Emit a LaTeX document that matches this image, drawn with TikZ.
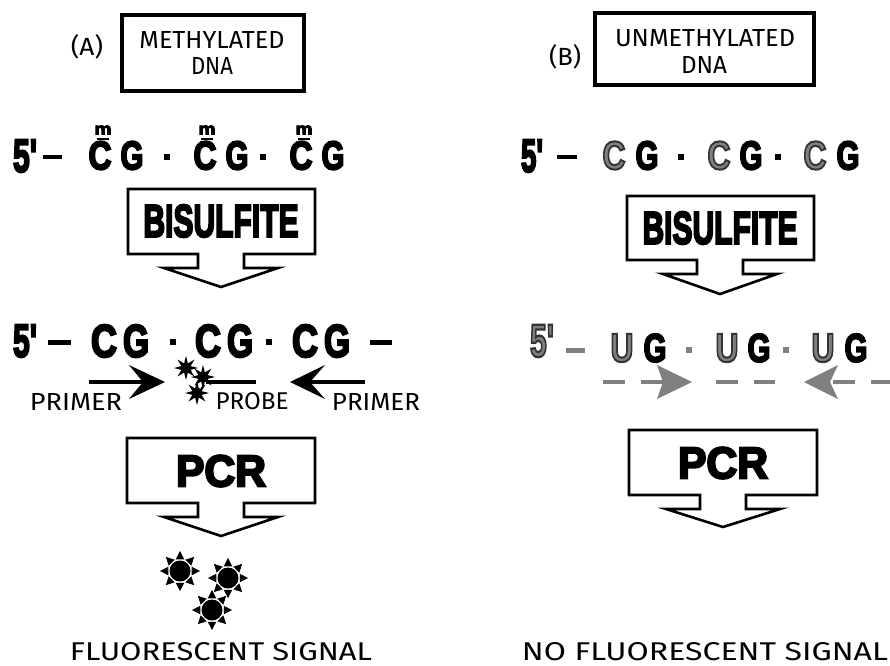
\documentclass[tikz,border=0pt]{standalone}
\usepackage{fontspec}
\setmainfont{Liberation Sans}
\newfontfamily\comic{Fira Sans}
\newfontfamily\heavy[FakeBold=5]{Liberation Sans Bold}
\definecolor{gr}{gray}{0.5}
\tikzset{x=1pt,y=-1pt,
 txt/.style={inner sep=0pt,outer sep=0pt},
 box/.style={draw=black,line width=3.5pt,fill=white},
 arrowshape/.style={draw=black,line width=2.6pt,fill=white,line join=miter,miter limit=10},
 dashg/.style={draw=gr,line width=3.5pt,dash pattern=on 22pt off 16pt},
 solidk/.style={draw=black,line width=3.5pt},
 headk/.style={fill=black,draw=none},
 headg/.style={fill=gr,draw=none},
}
% width, height, text
\newcommand{\Hv}[3]{\resizebox{#1pt}{#2pt}{\heavy #3}}
\newcommand{\Hg}[3]{\resizebox{#1pt}{#2pt}{\special{pdf:bcolor [0.5] [0.2]}\heavy #3\special{pdf:ecolor}}}
\newcommand{\Cm}[3]{\resizebox{#1pt}{#2pt}{\comic #3}}
\newcommand{\starburst}[2]{%
 \foreach \a in {0,45,...,315}{\fill[black] ({#1+12.5*cos(\a+20)},{#2+12.5*sin(\a+20)}) -- ({#1+12.5*cos(\a-20)},{#2+12.5*sin(\a-20)}) -- ({#1+20*cos(\a)},{#2+20*sin(\a)}) -- cycle;}
 \fill[black] (#1,#2) circle[radius=10.5];}
\newcommand{\ministar}[2]{%
 \foreach \a in {0,45,...,315}{\fill[black] ({#1+5*cos(\a+22)},{#2+5*sin(\a+22)}) -- ({#1+5*cos(\a-22)},{#2+5*sin(\a-22)}) -- ({#1+12*cos(\a)},{#2+12*sin(\a)}) -- cycle;}
 \fill[black] (#1,#2) circle[radius=5.5];}
% left, top, right, bottom, cx, tip
\newcommand{\bigarrow}[6]{%
 \draw[arrowshape] (#1,#2) -- (#3,#2) -- (#3,#4) -- (#5+23,#4) -- (#5+23,#4+14) -- (#5+57,#4+14) -- (#5,#6) -- (#5-57,#4+14) -- (#5-23,#4+14) -- (#5-23,#4) -- (#1,#4) -- cycle;}
\begin{document}
\begin{tikzpicture}
\useasboundingbox (0,0) rectangle (890,665);
% headers
\node[txt] (a) at (87,47) {\Cm{32}{21}{(A)}};
\draw[box] (122,15) rectangle (304,91);
\node[txt] (mt) at (212,40) {\Cm{145}{17}{METHYLATED}};
\node[txt] (mt2) at (212,66) {\Cm{42}{17}{DNA}};
\node[txt] (b) at (565,57) {\Cm{32}{21}{(B)}};
\draw[box] (595,13) rectangle (814,85);
\node[txt] (ut) at (705,38) {\Cm{180}{17}{UNMETHYLATED}};
\node[txt] (ut2) at (704,65) {\Cm{46}{17}{DNA}};
% row 1 left
\node[txt] (l5) at (25,156) {\Hv{24}{32}{5'}};
\fill[black] (43,155) rectangle (62,159);
\node[txt] (c1) at (100,155.5) {\Hv{23}{28}{C}};
\node[txt] (g1) at (132,155.5) {\Hv{23}{28}{G}};
\node[txt] (c2) at (205,155.5) {\Hv{23}{28}{C}};
\node[txt] (g2) at (237,155.5) {\Hv{23}{28}{G}};
\node[txt] (c3) at (301,155.5) {\Hv{23}{28}{C}};
\node[txt] (g3) at (333,155.5) {\Hv{23}{28}{G}};
\node[txt] (m1) at (103,130) {\Hv{17}{9}{m}};
\node[txt] (m2) at (207,130) {\Hv{17}{9}{m}};
\node[txt] (m3) at (304,130) {\Hv{17}{9}{m}};
\fill[black] (97,137.5) rectangle (109,139.5);
\fill[black] (201,137.5) rectangle (213,139.5);
\fill[black] (298,137.5) rectangle (310,139.5);
\fill[black] (164,154) rectangle (170,160);
\fill[black] (260,154) rectangle (266,160);
% row 1 right
\node[txt] (r5) at (532,156) {\Hv{22}{32}{5'}};
\fill[black] (557,155) rectangle (577,159);
\node[txt] (rc1) at (614,155.5) {\Hg{23}{28}{C}};
\node[txt] (rg1) at (647,155.5) {\Hv{23}{28}{G}};
\node[txt] (rc2) at (719,155.5) {\Hg{23}{28}{C}};
\node[txt] (rg2) at (751,155.5) {\Hv{23}{28}{G}};
\node[txt] (rc3) at (815,155.5) {\Hg{23}{28}{C}};
\node[txt] (rg3) at (848,155.5) {\Hv{23}{28}{G}};
\fill[black] (678,154) rectangle (684,160);
\fill[black] (775,154) rectangle (781,160);
% Bisulfite arrows
\bigarrow{128}{189}{315}{254}{221}{287}
\node[txt] (bl) at (221,221) {\Hv{155}{32}{BISULFITE}};
\bigarrow{627}{196}{814}{260}{720}{294}
\node[txt] (br) at (720,228) {\Hv{155}{32}{BISULFITE}};
% row 2 left
\node[txt] (l5b) at (25,341) {\Hv{24}{32}{5'}};
\fill[black] (48,340) rectangle (71,345);
\node[txt] (cg1) at (104,341) {\Hv{26}{32}{C}};
\node[txt] (gg1) at (136,341) {\Hv{26}{32}{G}};
\node[txt] (cg2) at (208,341) {\Hv{26}{32}{C}};
\node[txt] (gg2) at (240,341) {\Hv{26}{32}{G}};
\node[txt] (cg3) at (305,341) {\Hv{26}{32}{C}};
\node[txt] (gg3) at (337,341) {\Hv{26}{32}{G}};
\fill[black] (170,339) rectangle (176,345);
\fill[black] (266,339) rectangle (272,345);
\fill[black] (370,340) rectangle (392,345);
% primers
\draw[solidk] (89,382) -- (145,382);
\fill[headk] (165,382) -- (129,399) -- (143,382) -- (129,365) -- cycle;
\draw[solidk] (365,382) -- (308,382);
\fill[headk] (290,382) -- (325,365) -- (310,382) -- (325,399) -- cycle;
\draw[solidk] (206,382) -- (256,382);
\ministar{186}{368} \ministar{203}{377} \ministar{197}{393}
\draw[white,line width=.8pt] (192,372) .. controls (194,375) and (196,375) .. (197,374);
\draw[white,line width=.8pt] (199,384) .. controls (201,386) and (201,388) .. (200,389);
\node[txt] (pr1) at (76,402) {\Cm{92}{17}{PRIMER}};
\node[txt] (prb) at (252,401) {\Cm{73}{17}{PROBE}};
\node[txt] (pr2) at (376,402) {\Cm{88}{17}{PRIMER}};
% row 2 right
\node[txt] (r5b) at (542,341) {\Hg{24}{32}{5'}};
\fill[gr] (566,348) rectangle (585,353);
\node[txt] (u1) at (622,348) {\Hg{23}{28}{U}};
\node[txt] (ug1) at (655,348) {\Hv{23}{28}{G}};
\node[txt] (u2) at (727,348) {\Hg{23}{28}{U}};
\node[txt] (ug2) at (759,348) {\Hv{23}{28}{G}};
\node[txt] (u3) at (823,348) {\Hg{23}{28}{U}};
\node[txt] (ug3) at (856,348) {\Hv{23}{28}{G}};
\fill[gr] (686,347) rectangle (692,353);
\fill[gr] (783,347) rectangle (789,353);
\draw[dashg] (603,382) -- (665,382);
\fill[headg] (692,382) -- (657,365) -- (663,382) -- (657,399) -- cycle;
\draw[dashg] (716,382) -- (775,382);
\fill[headg] (804,382) -- (838,365) -- (830,382) -- (838,399) -- cycle;
\draw[dashg] (833,382) -- (890,382);
% PCR
\bigarrow{127}{438}{315}{503}{221}{536}
\node[txt] (pl) at (221,471) {\Hv{90}{31}{PCR}};
\bigarrow{629}{430}{817}{495}{723}{527}
\node[txt] (pr) at (723,463) {\Hv{90}{31}{PCR}};
% stars
\starburst{180}{571}
\starburst{228}{578}
\starburst{212}{610}
\node[txt] (fs) at (221,652) {\Cm{302}{18}{FLUORESCENT SIGNAL}};
\node[txt] (nfs) at (705,652) {\Cm{366}{18}{NO FLUORESCENT SIGNAL}};
\end{tikzpicture}
\end{document}
